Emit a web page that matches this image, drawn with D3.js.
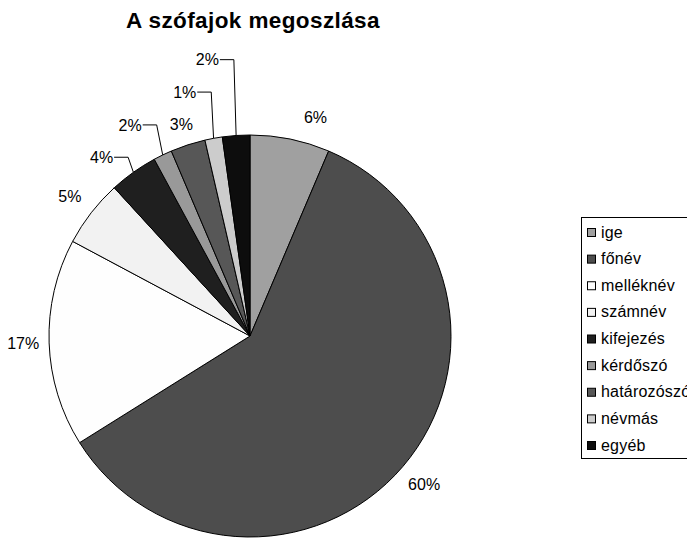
<!DOCTYPE html>
<html>
<head>
<meta charset="utf-8">
<script src="https://cdn.jsdelivr.net/npm/d3@7"></script>
<style>
  body { margin: 0; background: #fff; }
  svg { display: block; font-family: "Liberation Sans", Arial, sans-serif; }
</style>
</head>
<body>
<svg id="chart" width="687" height="538"></svg>
<script>
// data (percent of all words)
const categories = ["ige", "főnév", "melléknév", "számnév", "kifejezés", "kérdőszó", "határozószó", "névmás", "egyéb"];
const values = [6.4, 59.7, 16.7, 5.4, 3.9, 1.5, 2.8, 1.4, 2.2];
const colors = ["#a0a0a0", "#4d4d4d", "#fefefe", "#f2f2f2", "#1f1f1f", "#999999", "#575757", "#cccccc", "#0d0d0d"];

// label layout: distance from centre, leader line or not, small nudges
const labelRadius = [228, 229, 227, 228, 217, 231, 222, 247, 277];
const hasLeader = [false, false, false, false, true, true, false, true, true];
const labelNudge = [[20, 5], [0, 0], [0, 0], [0, 0], [4, -2], [7, -3], [0, 0], [6, -1], [3, 0]];

const svg = d3.select('#chart');
const cx = 250, cy = 336, r = 201;

svg.append('text')
    .attr('x', 253).attr('y', 28)
    .attr('text-anchor', 'middle')
    .attr('font-weight', 'bold')
    .attr('font-size', 22.5)
    .attr('letter-spacing', 0.4)
    .text('A szófajok megoszlása');

let rows = categories.map((c, i) => ({ name: c, value: values[i], color: colors[i], i: i }));
let arcs = d3.pie().sort(null).value(d => d.value)(rows);
let arc = d3.arc().innerRadius(0).outerRadius(r);

let g = svg.append('g').attr('transform', `translate(${cx},${cy})`);

g.selectAll('path')
    .data(arcs)
    .enter()
    .append('path')
    .attr('d', arc)
    .attr('fill', d => d.data.color)
    .attr('stroke', '#000')
    .attr('stroke-width', 1);

let polar = (a, rad) => [rad * Math.sin(a), -rad * Math.cos(a)];

arcs.forEach(d => {
    let i = d.data.i;
    let mid = (d.startAngle + d.endAngle) / 2;
    let p = polar(mid, labelRadius[i]);
    let x = p[0] + labelNudge[i][0], y = p[1] + labelNudge[i][1];
    let txt = Math.round(d.data.value) + '%';
    if (hasLeader[i]) {
        let e = polar(mid, r);
        g.append('polyline')
            .attr('points', `${e[0]},${e[1]} ${x},${y} ${x - 14},${y}`)
            .attr('fill', 'none')
            .attr('stroke', '#000')
            .attr('stroke-width', 1);
        g.append('text')
            .attr('x', x - 15).attr('y', y)
            .attr('dy', '0.35em')
            .attr('text-anchor', 'end')
            .attr('font-size', 16)
            .text(txt);
    } else {
        g.append('text')
            .attr('x', x).attr('y', y)
            .attr('dy', '0.35em')
            .attr('text-anchor', 'middle')
            .attr('font-size', 16)
            .text(txt);
    }
});

// legend (box runs past the right edge, as in the original)
let legend = svg.append('g').attr('transform', 'translate(581,217)');
legend.append('rect')
    .attr('x', 0.5).attr('y', 0.5)
    .attr('width', 140).attr('height', 241)
    .attr('fill', '#fff')
    .attr('stroke', '#000');

let ly = d3.scalePoint().domain(categories).range([15, 228]);

let items = legend.selectAll('g.item')
    .data(rows)
    .enter()
    .append('g')
    .attr('class', 'item')
    .attr('transform', d => `translate(0,${ly(d.name)})`);

items.append('rect')
    .attr('x', 6.5).attr('y', -3.5)
    .attr('width', 8).attr('height', 8)
    .attr('fill', d => d.color)
    .attr('stroke', '#000');

items.append('text')
    .attr('x', 20).attr('y', 0)
    .attr('dy', '0.35em')
    .attr('font-size', 16)
    .attr('letter-spacing', 0.2)
    .text(d => d.name);
</script>
</body>
</html>
